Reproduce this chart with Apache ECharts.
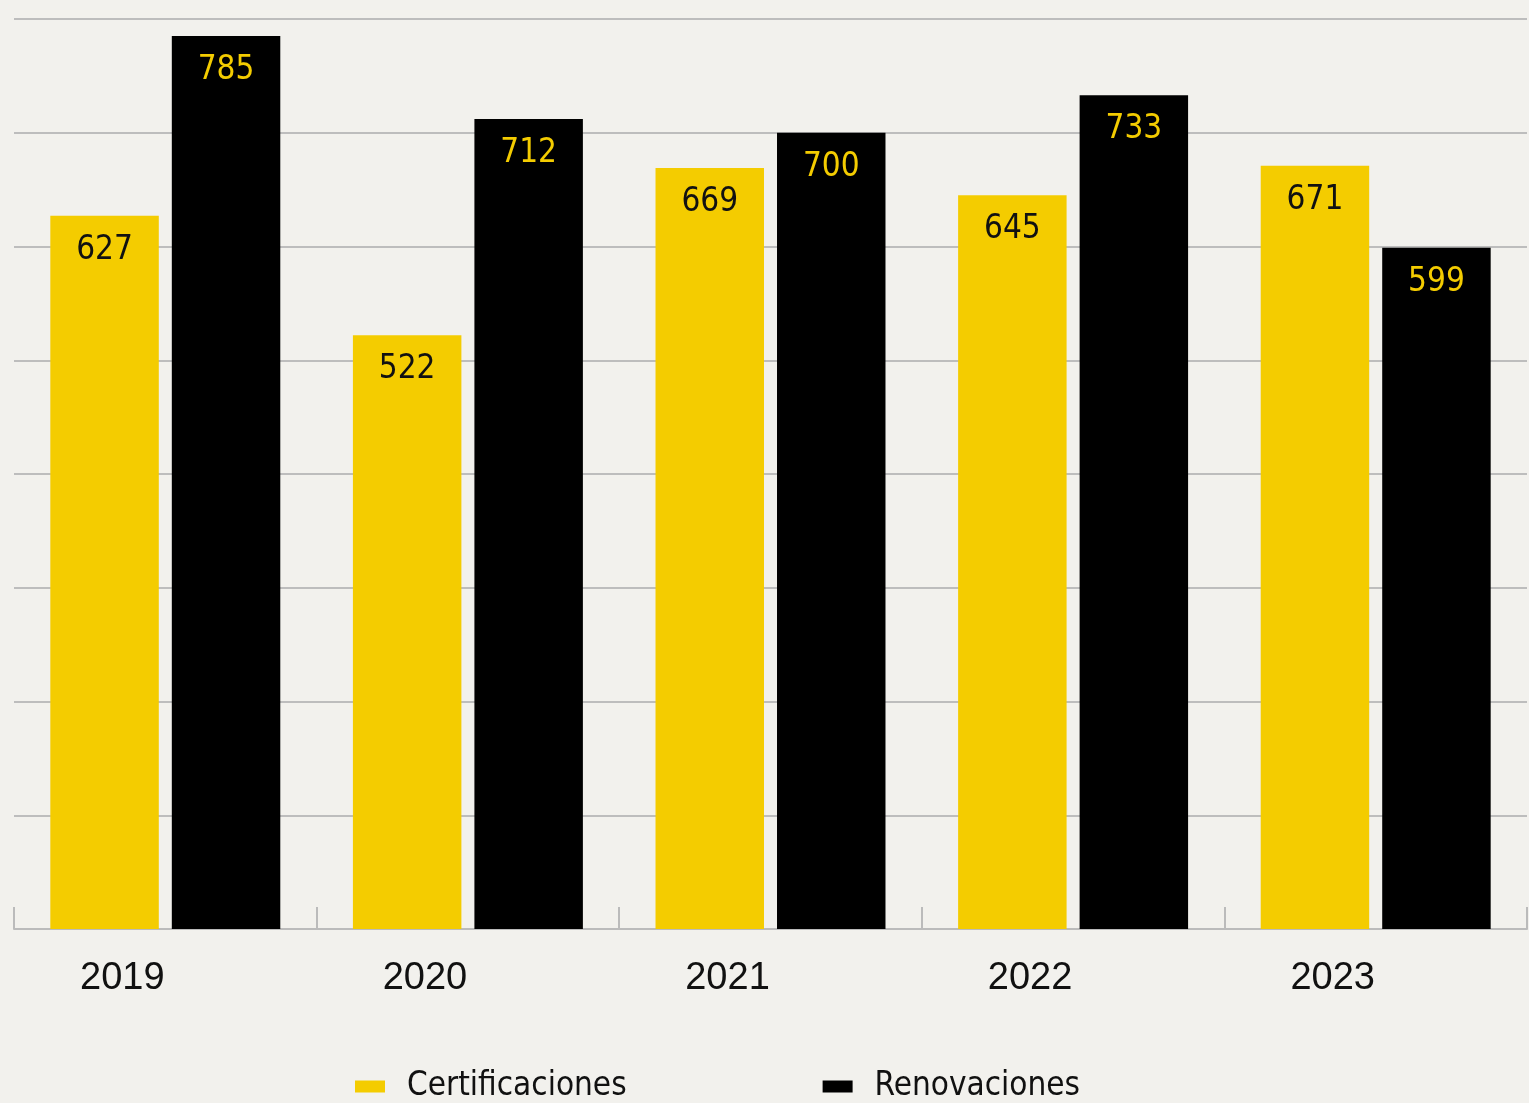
<!DOCTYPE html>
<html><head><meta charset="utf-8">
<script src="https://cdn.jsdelivr.net/npm/echarts@6/dist/echarts.min.js"></script>
<style>html,body{margin:0;padding:0;background:#f2f1ed;}#c{width:1529px;height:1103px;}</style>
</head><body><div id="c"></div>
<script>
const years = ['2019','2020','2021','2022','2023'];
const certificaciones = [627, 522, 669, 645, 671];
const renovaciones = [785, 712, 700, 733, 599];
const seriesNames = ['Certificaciones','Renovaciones'];

const chart = echarts.init(document.getElementById('c'));
const labelFont = '"DejaVu Sans Condensed", "Liberation Sans", sans-serif';
chart.setOption({
  backgroundColor: '#f2f1ed',
  animation: false,
  grid: {left: 14, right: 2, top: 19, bottom: 174},
  legend: {
    left: 355, top: 1070, padding: 0,
    itemWidth: 30, itemHeight: 12, itemGap: 196,
    icon: 'rect',
    textStyle: {fontFamily: labelFont, fontSize: 33, color: '#111', padding: [0,0,0,17]},
    data: seriesNames
  },
  xAxis: {
    type: 'category', data: years,
    axisLine: {lineStyle: {color: '#bbbbbb', width: 2}},
    axisTick: {show: true, inside: true, length: 22, lineStyle: {color: '#bbbbbb', width: 2}},
    axisLabel: {fontFamily: 'Liberation Sans', fontSize: 38, color: '#111', margin: 31, padding: [0, 86, 0, 0]}
  },
  yAxis: {
    type: 'value', min: 0, max: 800, interval: 100,
    axisLabel: {show: false}, axisLine: {show: false}, axisTick: {show: false},
    splitLine: {lineStyle: {color: '#bdbdbd', width: 2}}
  },
  series: [
    {name: seriesNames[0], type: 'bar', data: certificaciones, barGap: '12%', barCategoryGap: '24%',
     itemStyle: {color: '#f4cc00'},
     label: {show: true, position: 'insideTop', distance: 18, fontFamily: labelFont, fontSize: 33, color: '#111'}},
    {name: seriesNames[1], type: 'bar', data: renovaciones, barGap: '12%', barCategoryGap: '24%',
     itemStyle: {color: '#000000'},
     label: {show: true, position: 'insideTop', distance: 18, fontFamily: labelFont, fontSize: 33, color: '#f4cc00'}}
  ]
});
</script></body></html>
